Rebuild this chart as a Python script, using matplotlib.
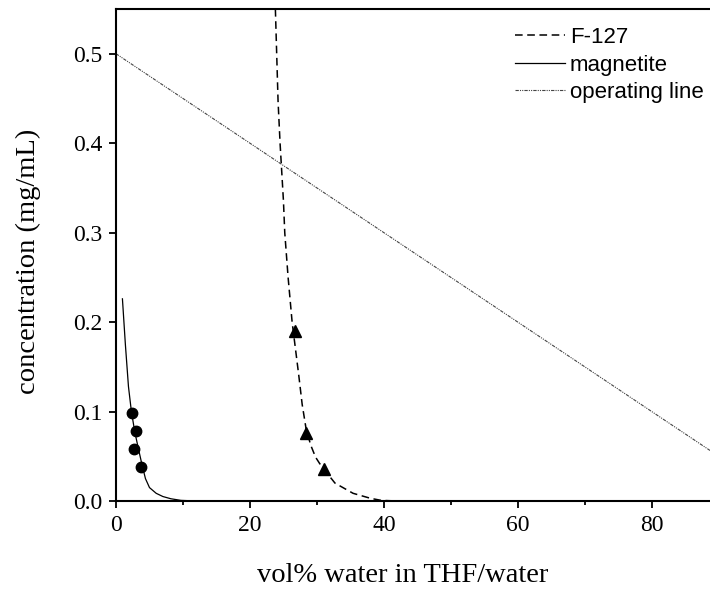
"""Solubility curves of F-127 and magnetite vs. water content, with operating line."""

import matplotlib.pyplot as plt
from matplotlib.ticker import MultipleLocator, FormatStrFormatter

# Data
# magnetite curve (solid)
mag_x = [0.96, 1.4, 1.86, 2.3, 2.8, 3.3, 3.9, 4.4, 5.0, 6.0, 7.0, 8.2,
         9.7, 12.0, 88.7]
mag_y = [0.226, 0.175, 0.128, 0.100, 0.0775, 0.060, 0.040, 0.025, 0.015,
         0.0086, 0.005, 0.0025, 0.0007, 0.0, 0.0]
# magnetite data points (circles)
mag_pts_x = [2.36, 2.93, 2.66, 3.79]
mag_pts_y = [0.098, 0.0777, 0.058, 0.038]

# F-127 curve (dashed)
f127_x = [23.8, 24.2, 24.5, 25.0, 25.2, 25.7, 26.3, 26.8, 27.3, 27.8,
          28.4, 29.1, 29.8, 30.4, 31.1, 32.7, 35.4, 38.0, 39.6, 42.0, 88.7]
f127_y = [0.550, 0.447, 0.400, 0.336, 0.300, 0.250, 0.200, 0.170, 0.140,
          0.108, 0.080, 0.062, 0.049, 0.042, 0.035, 0.020, 0.0086, 0.003,
          0.0007, 0.0, 0.0]
# F-127 data points (triangles)
f127_pts_x = [26.8, 28.4, 31.1]
f127_pts_y = [0.190, 0.0755, 0.036]

# operating line
op_x = [0, 88.7]
op_y = [0.5, 0.0565]

if __name__ == '__main__':
    serif = ['Liberation Serif', 'DejaVu Serif']
    sans = ['Liberation Sans', 'DejaVu Sans']

    fig = plt.figure(figsize=(7.1, 5.92), dpi=100)
    # right side of the original is cropped, so the axes runs to the edge
    ax = fig.add_axes([116 / 710, 1 - 501 / 592, 594 / 710, 492 / 592])

    ax.plot(f127_x, f127_y, color='black', lw=1.1, linestyle=(0, (5, 3)),
            label='F-127')
    ax.plot(mag_x, mag_y, color='black', lw=0.9, label='magnetite')
    ax.plot(op_x, op_y, color='#444444', lw=0.8,
            linestyle=(0, (3, 1, 1, 1, 1, 1)), label='operating line')

    ax.plot(mag_pts_x, mag_pts_y, 'o', color='black', ms=7.5)
    ax.plot(f127_pts_x, f127_pts_y, '^', color='black', ms=8.5)

    ax.set_xlim(0, 88.7)
    ax.set_ylim(0, 0.55)
    ax.xaxis.set_major_locator(MultipleLocator(20))
    ax.xaxis.set_minor_locator(MultipleLocator(10))
    ax.yaxis.set_major_locator(MultipleLocator(0.1))
    ax.yaxis.set_major_formatter(FormatStrFormatter('%.1f'))

    ax.spines['right'].set_visible(False)
    for s in ['left', 'top', 'bottom']:
        ax.spines[s].set_linewidth(1.5)
    ax.tick_params(which='major', direction='out', length=5, width=1.3,
                   labelsize=17, pad=5)
    ax.tick_params(which='minor', direction='out', length=3, width=1.3)
    for lab in ax.get_xticklabels() + ax.get_yticklabels():
        lab.set_family(serif)

    ax.set_xlabel('vol% water in THF/water', family=serif, fontsize=20.5)
    ax.set_ylabel('concentration (mg/mL)', family=serif, fontsize=20.5)
    ax.xaxis.set_label_coords(403 / 710, 1 - 563 / 592,
                              transform=fig.transFigure)
    ax.yaxis.set_label_coords(41 / 710, 1 - 261 / 592,
                              transform=fig.transFigure)

    ax.legend(loc='upper left', bbox_to_anchor=(0.725, 0.954),
              bbox_transform=fig.transFigure, frameon=False,
              prop={'family': sans, 'size': 16}, handlelength=2.25,
              handletextpad=0.22, labelspacing=0.29, borderpad=0,
              borderaxespad=0)

    fig.savefig('out.png', dpi=100)
